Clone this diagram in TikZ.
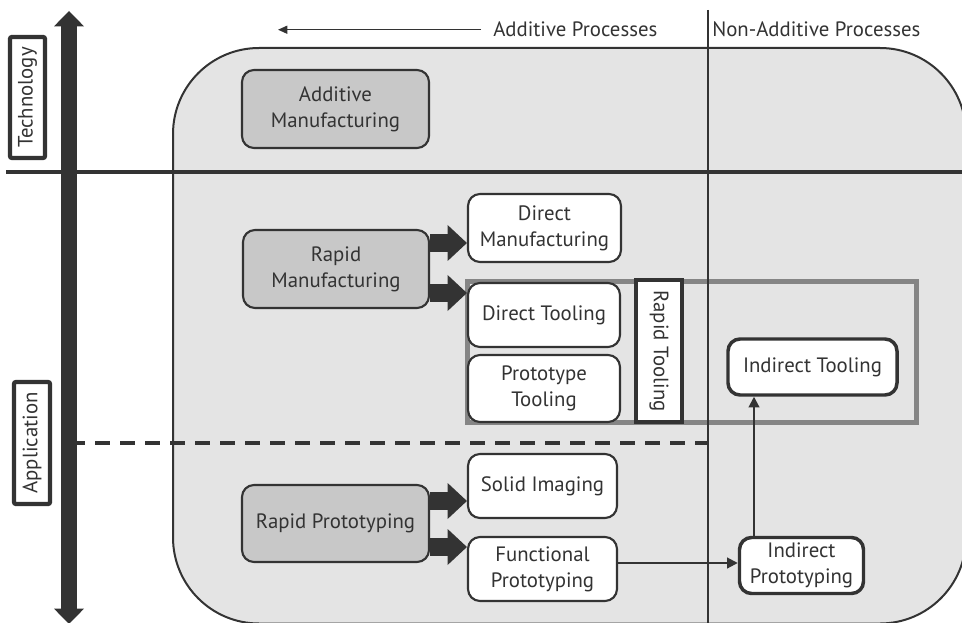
\documentclass[tikz,border=0pt]{standalone}
\usepackage{fontspec}
\setmainfont{PT Sans}
\usetikzlibrary{arrows.meta,calc}
\definecolor{ink}{HTML}{333333}
\definecolor{panel}{HTML}{E4E4E4}
\definecolor{boxgray}{HTML}{C8C8C8}
\definecolor{framegray}{HTML}{858585}

\begin{document}
\begin{tikzpicture}[x=0.75pt,y=-0.75pt,
  every node/.style={text=ink, font=\fontsize{15.6}{19.5}\selectfont, align=center},
  sz/.style 2 args={minimum width=#1*0.75pt, minimum height=#2*0.75pt, inner sep=0pt},
  graybox/.style={draw=ink, fill=boxgray, line width=1.6pt, rounded corners=9pt},
  whitebox/.style={draw=ink, fill=white, line width=1.6pt, rounded corners=9pt},
  boldbox/.style={draw=ink, fill=white, line width=2.6pt, rounded corners=9pt},
  tagbox/.style={draw=ink, fill=white, line width=3.2pt, rounded corners=1.5pt},
  blk/.style={draw=ink, line width=14pt, -{Triangle[width=27pt,length=14.5pt,line width=0pt]}},
  thinarr/.style={draw=ink, line width=1.5pt, -{Triangle[width=8pt,length=8pt]}},
]
\useasboundingbox (0,0) rectangle (962,623);

% background panel
\begin{scope}
  \clip (0,0) rectangle (962,623);
  \draw[ink, fill=panel, line width=1.5pt, rounded corners=64.5pt] (173,48) rectangle (966,623.5);
\end{scope}

% rapid tooling frame
\node[draw=framegray, line width=3.75pt, sz={449}{141}] (rtframe) at (692,352) {};

% dividing lines
\coordinate (hl0) at (6,172);
\coordinate (hl1) at (962,172);
\draw[ink, line width=2.5pt] (hl0) -- (hl1);
\coordinate (vd0) at (708,10);
\coordinate (vd1) at (708,623);
\draw[ink, line width=1.6pt] (vd0) -- (vd1);
\coordinate (dl0) at (70,443);
\draw[ink, line width=3pt, dash pattern=on 11.25pt off 7.5pt] (dl0) -- (dl0 -| vd0);

% technology / application axis
\coordinate (axtop) at (69,11);
\coordinate (axbot) at (69,624);
\draw[ink, line width=12pt, {Triangle[width=22.5pt,length=11.5pt,line width=0pt]}-{Triangle[width=22.5pt,length=11.5pt,line width=0pt]}] (axbot) -- (axtop);
\node[tagbox, rotate=90, sz={121}{35}] (tech) at (27.5,97.5) {Technology};
\node[tagbox, rotate=90, sz={122}{36}] (app) at (32,443) {Application};

% process headings
\node[anchor=base west, inner sep=3pt] (addp) at (489,37) {Additive Processes};
\node[anchor=base west, inner sep=3pt] (nonp) at (708,37) {Non-Additive Processes};
\coordinate (procend) at (278,31);
\draw[ink, line width=1.1pt, -{Triangle[width=6pt,length=7pt]}] ([xshift=-6pt]addp.west) -- (procend |- addp.west);

% boxes
\node[graybox, sz={187}{78}] (am) at (335.5,109) {Additive\\Manufacturing};
\node[graybox, sz={186}{78}] (rm) at (336,269) {Rapid\\Manufacturing};
\node[graybox, sz={187}{77}] (rp) at (335.5,523.5) {Rapid Prototyping};
\node[whitebox, sz={153}{68}] (dm) at (544.5,228) {Direct\\Manufacturing};
\node[whitebox, sz={152}{64}] (dt) at (544,315) {Direct Tooling};
\node[whitebox, sz={152}{67}] (pt) at (544,388.5) {Prototype\\Tooling};
\node[whitebox, sz={149}{64}] (si) at (542.5,486) {Solid Imaging};
\node[whitebox, sz={149}{64}] (fp) at (542.5,569) {Functional\\Prototyping};
\node[boldbox, sz={124}{56}] (ip) at (801.5,565.5) {Indirect\\Prototyping};
\node[boldbox, sz={169}{56}] (it) at (812.5,367) {Indirect Tooling};
\node[tagbox, rounded corners=0pt, rotate=-90, sz={142}{46}] (rt) at (659,351) {Rapid Tooling};

% block arrows
\coordinate (rmA) at ($(rm.east)+(0,-26)$);
\coordinate (rmB) at ($(rm.east)+(0,24)$);
\coordinate (rpA) at ($(rp.east)+(0,-22.5)$);
\coordinate (rpB) at ($(rp.east)+(0,23.5)$);
\draw[blk] (rmA) -- (rmA -| dm.west);
\draw[blk] (rmB) -- (rmB -| dt.west);
\draw[blk] (rpA) -- (rpA -| si.west);
\draw[blk] (rpB) -- (rpB -| fp.west);

% thin arrows
\coordinate (upx) at (754,0);
\draw[thinarr] ([yshift=4.5pt]fp.east) -- ([yshift=4.5pt]fp.east -| ip.west);
\draw[thinarr] (ip.north -| upx) -- (it.south -| upx);
\end{tikzpicture}
\end{document}
